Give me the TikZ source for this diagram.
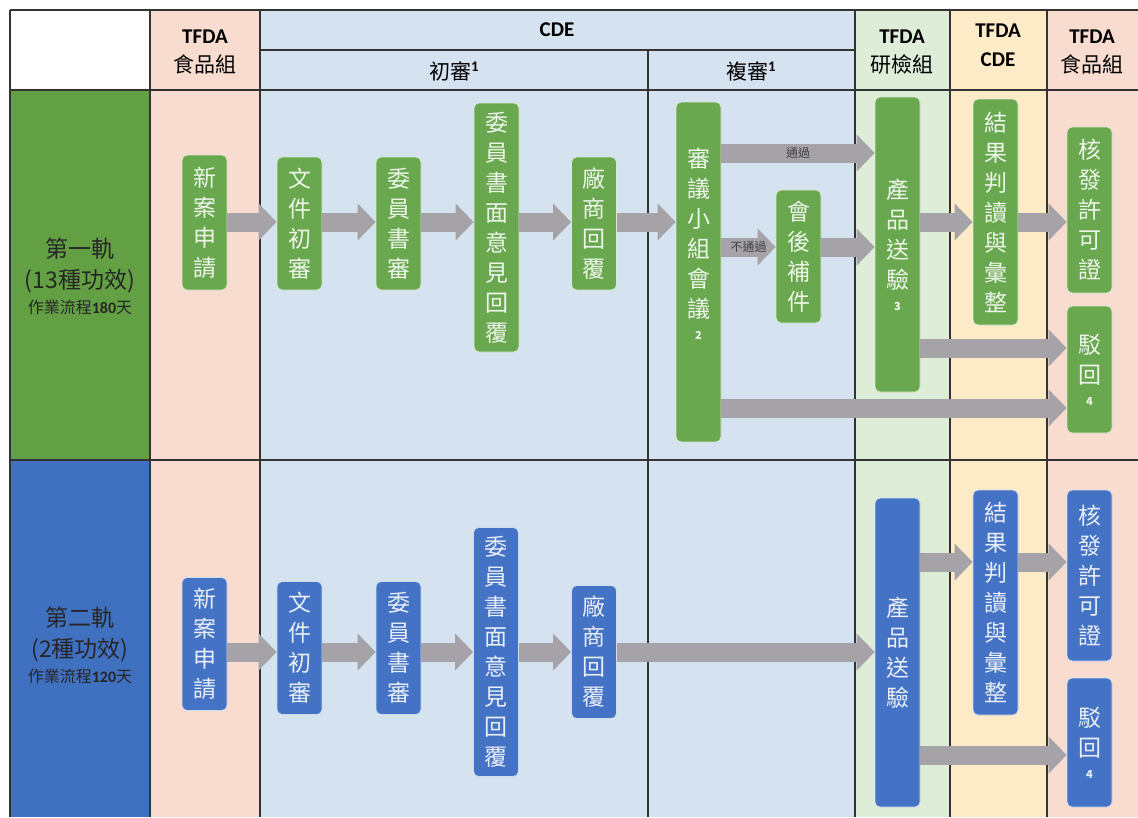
\documentclass[tikz,border=0pt]{standalone}
\usepackage{fontspec}
\setmainfont{Carlito}
\newfontfamily\cjk{Noto Sans CJK TC}
\usetikzlibrary{arrows.meta}

\definecolor{colpink}{HTML}{F8DCCF}
\definecolor{colblue}{HTML}{D5E3F0}
\definecolor{colgreen}{HTML}{DDEDD8}
\definecolor{colyellow}{HTML}{FCEBC6}
\definecolor{trackgreen}{HTML}{62A043}
\definecolor{trackblue}{HTML}{4070C0}
\definecolor{nodegreen}{HTML}{6AA84F}
\definecolor{nodeblue}{HTML}{4472C4}
\definecolor{arrowgray}{HTML}{A5A3A8}
\definecolor{gridline}{HTML}{333333}

\tikzset{
  gbox/.style = {rounded corners = 5pt, fill = nodegreen, draw = white!75!nodegreen,
    line width = 0.8pt, text = white!88!nodegreen, align = center,
    font = \cjk\fontsize{23}{30}\selectfont, minimum width = 45pt, inner sep = 0pt},
  bbox/.style = {gbox, fill = nodeblue, draw = white!75!nodeblue, text = white!88!nodeblue},
  flow/.style = {draw = arrowgray, line width = 19pt,
    -{Triangle[length = 18pt, width = 37pt, line width = 0pt]}},
  flowlbl/.style = {font = \cjk\fontsize{12}{12}\selectfont, text = black!75, inner sep = 0pt},
  headtxt/.style = {align = center, font = \fontsize{21}{29}\selectfont},
  tracktxt/.style = {align = center, text = black!85, font = \cjk\fontsize{23}{31}\selectfont}
}

\newcommand{\supn}[1]{{\fontsize{11}{11}\selectfont\bfseries #1}}

\begin{document}
\begin{tikzpicture}[x = 1pt, y = -1pt]
\useasboundingbox[fill = white] (0, 0) rectangle (1138, 817);

% column backgrounds
\fill[colpink] (150, 10) rectangle (260, 817);
\fill[colblue] (260, 10) rectangle (855, 817);
\fill[colgreen] (855, 10) rectangle (950, 817);
\fill[colyellow] (950, 10) rectangle (1047, 817);
\fill[colpink] (1047, 10) rectangle (1138, 817);
\fill[trackgreen] (10, 90) rectangle (150, 460);
\fill[trackblue] (10, 460) rectangle (150, 817);

% grid
\draw[gridline, line width = 1.4pt]
  (10, 10) -- (1138, 10)
  (10, 90) -- (1138, 90)
  (10, 460) -- (1138, 460)
  (260, 50) -- (855, 50)
  (648, 50) -- (648, 817);
\foreach \x in {10, 150, 260, 855, 950, 1047}
  \draw[gridline, line width = 1.4pt] (\x, 10) -- (\x, 817);

% header
\node[headtxt] (hfood) at (205, 52) {{\bfseries TFDA}\\{\cjk 食品組}};
\node[headtxt] (hcde) at (557, 30) {\bfseries CDE};
\node[headtxt] (hfirst) at (454, 71) {\cjk 初審\textsuperscript{\normalfont\bfseries 1}};
\node[headtxt] (hsecond) at (751, 71) {\cjk 複審\textsuperscript{\normalfont\bfseries 1}};
\node[headtxt] (hlab) at (902, 52) {{\bfseries TFDA}\\{\cjk 研檢組}};
\node[headtxt] (hcde2) at (998, 45) {{\bfseries TFDA}\\{\bfseries CDE}};
\node[headtxt] (hfood2) at (1092, 52) {{\bfseries TFDA}\\{\cjk 食品組}};

% tracks
\node[tracktxt] (track1) at (80, 276) {第一軌\\(13種功效)\\[-6pt]{\fontsize{16}{20}\selectfont 作業流程{\normalfont\bfseries 180}天}};
\node[tracktxt] (track2) at (80, 645) {第二軌\\(2種功效)\\[-6pt]{\fontsize{16}{20}\selectfont 作業流程{\normalfont\bfseries 120}天}};

% arrow levels
\coordinate (ya) at (0, 222);
\coordinate (ypass) at (0, 153);
\coordinate (yfail) at (0, 247);
\coordinate (yrej) at (0, 348);
\coordinate (ybot) at (0, 408);
\coordinate (yb) at (0, 652);
\coordinate (ybres) at (0, 562);
\coordinate (ybrej) at (0, 755);

% first track
\node[gbox, minimum height = 135pt] (n1) at (204.5, 222.5) {新\\案\\申\\請};
\node[gbox, minimum height = 133pt] (d1) at (299.5, 223.5) {文\\件\\初\\審};
\node[gbox, minimum height = 133pt] (m1) at (398.5, 223.5) {委\\員\\書\\審};
\node[gbox, minimum height = 249pt] (o1) at (496.5, 227.5) {委\\員\\書\\面\\意\\見\\回\\覆};
\node[gbox, minimum height = 133pt] (r1) at (594, 223.5) {廠\\商\\回\\覆};
\node[gbox, minimum height = 340pt] (p1) at (698.5, 272) {審\\議\\小\\組\\會\\議\\[-8pt]\supn{2}\\[26pt]\mbox{}};
\node[gbox, minimum height = 133pt] (s1) at (798.5, 256.5) {會\\後\\補\\件};
\node[gbox, minimum height = 295pt] (t1) at (897.5, 244.5) {產\\品\\送\\驗\\[-8pt]\supn{3}};
\node[gbox, minimum height = 226pt] (e1) at (995.5, 212) {結\\果\\判\\讀\\與\\彙\\整};
\node[gbox, minimum height = 166pt] (l1) at (1089.5, 210) {核\\發\\許\\可\\證};
\node[gbox, minimum height = 127pt] (j1) at (1089.5, 369.5) {駁\\回\\[-8pt]\supn{4}};

\draw[flow] (n1.east |- ya) -- (d1.west |- ya);
\draw[flow] (d1.east |- ya) -- (m1.west |- ya);
\draw[flow] (m1.east |- ya) -- (o1.west |- ya);
\draw[flow] (o1.east |- ya) -- (r1.west |- ya);
\draw[flow] (r1.east |- ya) -- (p1.west |- ya);
\draw[flow] (p1.east |- ypass) -- node[flowlbl] (lpass) {通過} (t1.west |- ypass);
\draw[flow] (p1.east |- yfail) -- node[flowlbl] (lfail) {不通過} (s1.west |- yfail);
\draw[flow] (s1.east |- yfail) -- (t1.west |- yfail);
\draw[flow] (p1.east |- ybot) -- (j1.west |- ybot);
\draw[flow] (t1.east |- ya) -- (e1.west |- ya);
\draw[flow] (e1.east |- ya) -- (l1.west |- ya);
\draw[flow] (t1.east |- yrej) -- (j1.west |- yrej);

% second track
\node[bbox, minimum height = 133pt] (n2) at (204.5, 644) {新\\案\\申\\請};
\node[bbox, minimum height = 133pt] (d2) at (299.5, 648) {文\\件\\初\\審};
\node[bbox, minimum height = 133pt] (m2) at (398.5, 648) {委\\員\\書\\審};
\node[bbox, minimum height = 249pt] (o2) at (496, 652) {委\\員\\書\\面\\意\\見\\回\\覆};
\node[bbox, minimum height = 133pt] (r2) at (594, 652) {廠\\商\\回\\覆};
\node[bbox, minimum height = 309pt] (t2) at (897.5, 652.5) {產\\品\\送\\驗};
\node[bbox, minimum height = 225pt] (e2) at (995.5, 602.5) {結\\果\\判\\讀\\與\\彙\\整};
\node[bbox, minimum height = 171pt] (l2) at (1089.5, 575.5) {核\\發\\許\\可\\證};
\node[bbox, minimum height = 129pt] (j2) at (1089.5, 742.5) {駁\\回\\[-8pt]\supn{4}};

\draw[flow] (n2.east |- yb) -- (d2.west |- yb);
\draw[flow] (d2.east |- yb) -- (m2.west |- yb);
\draw[flow] (m2.east |- yb) -- (o2.west |- yb);
\draw[flow] (o2.east |- yb) -- (r2.west |- yb);
\draw[flow] (r2.east |- yb) -- (t2.west |- yb);
\draw[flow] (t2.east |- ybres) -- (e2.west |- ybres);
\draw[flow] (e2.east |- ybres) -- (l2.west |- ybres);
\draw[flow] (t2.east |- ybrej) -- (j2.west |- ybrej);
\end{tikzpicture}
\end{document}
